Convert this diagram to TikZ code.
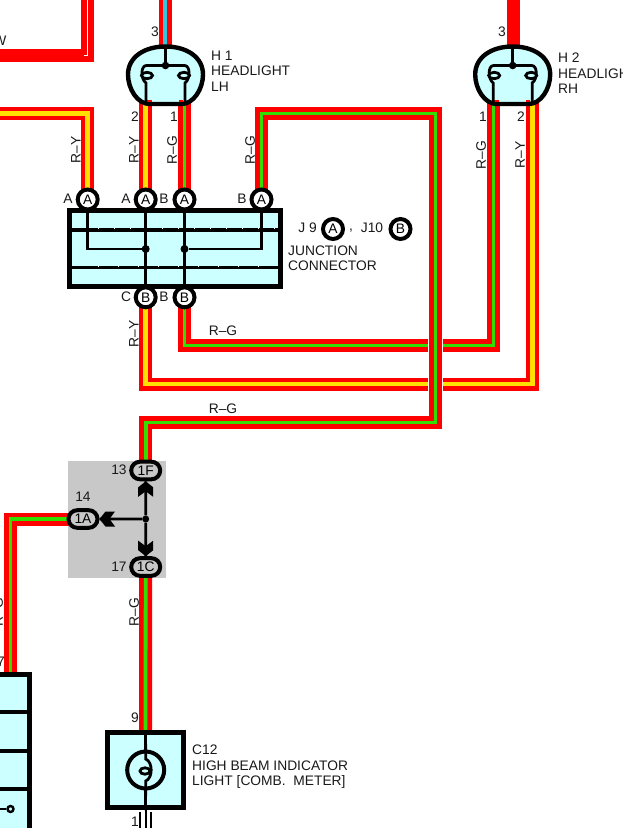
\documentclass[tikz,border=0pt]{standalone}
\usepackage{fontspec}
\setmainfont{Liberation Sans}
\usetikzlibrary{backgrounds, shapes.misc}

\definecolor{wred}{HTML}{FF0000}
\definecolor{wyellow}{HTML}{FFE000}
\definecolor{wgreen}{HTML}{33DD00}
\definecolor{wblue}{HTML}{33C4E0}
\definecolor{body}{HTML}{CCFFFF}
\definecolor{splice}{HTML}{C8C8C8}

\tikzset{
	wire/.style={draw=wred, line width=13pt, miter limit=10},
	wirery/.style={draw=wred, double=wyellow, line width=4.2pt, double distance=4.6pt, miter limit=10},
	wirerg/.style={draw=wred, double=wgreen, line width=4.6pt, double distance=3.8pt, miter limit=10},
	wirerl/.style={draw=wred, double=wblue, line width=4.2pt, double distance=4.6pt, miter limit=10},
	conn/.style={circle, draw, line width=4pt, fill=white, minimum size=20pt, inner sep=0pt},
	pill/.style={rounded rectangle, draw, line width=4pt, fill=splice, minimum width=29pt, minimum height=17.6pt, inner sep=0pt},
	box/.style={draw, line width=5pt, fill=body, inner sep=0pt},
	lbl/.style={inner sep=0pt, text=black!90},
	rot/.style={lbl, rotate=90},
	dotj/.style={circle, fill=black, inner sep=0pt, minimum size=7pt},
	sig/.style={line width=2.8pt},
	chevron/.pic={
		\fill (0,0) -- (7.5,6) -- (7.5,15.5) -- (0,10) -- (-7.5,15.5) -- (-7.5,6) -- cycle;
	},
	bulb/.pic={
		\draw[line width=4.4pt, fill=body] (-37.5,-0.5) .. controls (-37.5,-18) and (-21,-28.5) .. (0,-28.5)
			.. controls (21,-28.5) and (37.5,-18) .. (37.5,-0.5)
			.. controls (37.5,14) and (28,29) .. (16,29) -- (-16,29)
			.. controls (-28,29) and (-37.5,14) .. (-37.5,-0.5) -- cycle;
		\fill[wred] (-18.5,25.2) rectangle (-13.5,26.6);
		\fill[wred] (13,25.2) rectangle (17.5,26.6);
		\draw[sig] (0,-28.5) -- (0,-9.5);
		\fill (0,-9.5) circle (3.8pt);
		\draw[sig] (-19.5,29) -- (-19.5,8) .. controls (-25,4) and (-25,-9.5) .. (-19,-9.5) -- (19,-9.5)
			.. controls (25,-9.5) and (25,4) .. (19.5,8) -- (19.5,29);
		\draw[sig, fill=body] (-18.5,0.5) ellipse (5.5pt and 3.2pt);
		\draw[sig, fill=body] (18.5,0.5) ellipse (5.5pt and 3.2pt);
	}
}

\begin{document}
\begin{tikzpicture}[x=1pt, y=-1pt, every node/.append style={font=\fontsize{13.8}{15.4}\selectfont}]
	\useasboundingbox (0,0) rectangle (623,828);
	% free ends
	\coordinate (topL) at (87.5,-8);
	\coordinate (endL) at (-8,55.5);
	\coordinate (topH1) at (165,-8);
	\coordinate (topH2) at (513,-8);
	\coordinate (endRY) at (-8,113.5);
	\coordinate (h1a) at (145.7,103);
	\coordinate (h1b) at (184.5,103);
	\coordinate (h1c) at (165,46);
	\coordinate (h2a) at (493.5,103);
	\coordinate (h2b) at (532.5,103);
	\coordinate (h2c) at (513,46);
	\coordinate (cr1) at (435.5,334);
	\coordinate (cr2) at (435.5,396);
	\coordinate (meter) at (10.5,674);

	% connectors of J9 and J10
	\node[box, minimum width=210.7pt, minimum height=76pt] (jc) at (175,248.5) {};
	\foreach \nm/\x/\y/\txt in {a1/87.7/199.5/A, a2/145.7/199.5/A, a3/184.5/199.5/A, a4/261.5/199.5/A,
		b1/145.7/297.3/B, b2/184.5/297.3/B, legA/333/229/A, legB/400.5/229/B}
		\node[conn] (\nm) at (\x,\y) {\txt};
	\draw[line width=3.2pt] (jc.west |- 0,230) -- (jc.east |- 0,230);
	\draw[line width=3.2pt] (jc.west |- 0,267.7) -- (jc.east |- 0,267.7);
	\draw[white, line width=0.6pt, dash pattern=on 1pt off 15pt] (98,228.5) -- (278,228.5);
	\draw[white, line width=0.6pt, dash pattern=on 1pt off 19pt] (98,266.2) -- (278,266.2);
	\node[dotj, minimum size=8pt] (s1) at (145.7,249) {};
	\node[dotj, minimum size=8pt] (s2) at (184.5,249) {};
	\draw[sig] (a1) |- (s1);
	\draw[sig] (a4) |- (s2);
	\draw[sig] (a2) -- (b1);
	\draw[sig] (a3) -- (b2);

	% splice 1A 1F 1C
	\node[pill] (p1F) at (145.7,470.5) {1F};
	\node[pill] (p1A) at (83,519) {1A};
	\node[pill] (p1C) at (145.7,567) {1C};
	\node[dotj] (jct) at (145.7,519) {};
	\draw[sig] (jct) -- (p1F);
	\draw[sig] (jct) -- (p1A);
	\draw[sig] (jct) -- (p1C);
	\pic at (p1F.south) {chevron};
	\pic[rotate=90] at (p1A.east) {chevron};
	\pic[rotate=180] at (p1C.north) {chevron};

	% headlights
	\pic at (165.5,75) {bulb};
	\pic at (512.7,75) {bulb};

	% indicator and the meter box
	\node[box, minimum width=76pt, minimum height=75pt] (c12) at (145.5,770) {};
	\node[circle, draw, line width=4pt, minimum size=37pt, inner sep=0pt] (lamp) at (145.7,770) {};
	\draw[sig] (c12.north) -- (145.7,759) .. controls (153,762) and (153,778) .. (145.7,781) -- (c12.south);
	\draw[sig, fill=body] (145,771) ellipse (5pt and 3.2pt);
	\draw[line width=2pt] (c12.south) -- (145.5,835);
	\draw[line width=2pt] (140,812) -- (140,835);
	\draw[line width=2pt] (150.5,812) -- (150.5,835);
	\draw[box] (-10,674.5) rectangle (29.5,845);
	\draw[line width=3.2pt] (-10,712) -- (29.5,712);
	\draw[line width=3.2pt] (-10,751) -- (29.5,751);
	\draw[line width=3.2pt] (-10,789) -- (29.5,789);
	\node[circle, draw, line width=2.4pt, fill=body, minimum size=6pt, inner sep=0pt] (pin) at (10.5,809) {};
	\draw[sig] (-5,809) -- (pin);

	% wires go under all of it
	\begin{scope}[on background layer]
		\node[fill=splice, minimum width=98pt, minimum height=117pt, inner sep=0pt] (grey) at (117,519.5) {};
		\draw[wire] (topL) |- (endL);
		\draw[white, line width=0.9pt] (87,-8) -- (87,55) -- (84,55);
		\draw[wirerl] (topH1) -- (h1c);
		\draw[wire] (topH2) -- (h2c);
		\draw[wirery] (a1.center) |- (endRY);
		\draw[wirery] (a2.center) -- (h1a);
		\draw[wirerg] (a3.center) -- (h1b);
		\draw[wirerg] (b2.center) |- (345.5,345.5) -| (h2a);
		\draw[wirery] (b1.center) |- (384,384) -| (h2b);
		\draw[white, line width=15.4pt] (cr1) -- (cr2);
		\draw[wirerg] (a4.center) |- (435.5,113.5) |- (145.7,422.5) -- (p1F.center);
		\draw[wirerg] (p1A.center) -| (meter);
		\draw[wirerg] (p1C.center) -- (c12.north);
	\end{scope}

	% wire colours
	\node[rot] (w1) at (76,150) {R–Y};
	\node[rot] (w2) at (134,150) {R–Y};
	\node[rot] (w3) at (172,150) {R–G};
	\node[rot] (w4) at (250,150) {R–G};
	\node[rot] (w5) at (481,155) {R–G};
	\node[rot] (w6) at (520,155) {R–Y};
	\node[rot] (w7) at (134,334) {R–Y};
	\node[rot] (w8) at (134,612) {R–G};
	\node[rot] (w9) at (-2,612) {R–G};
	\node[lbl] (w10) at (223,331) {R–G};
	\node[lbl] (w11) at (223,409) {R–G};
	\node[lbl] (w12) at (0,41) {W};

	% pin numbers and connector letters
	\foreach \nm/\x/\y/\txt in {n1/155/32/3, n2/135/117/2, n3/174/117/1, n4/502/32/3, n5/483/117/1, n6/521/117/2,
		n7/135/718/9, n8/135/822/1, n9/119/470/13, n10/83/497/14, n11/119/567/17, n12/1/662/7,
		l1/68/199/A, l2/126/199/A, l3/164/199/B, l4/242/199/B, l5/126/297/C, l6/164/297/B,
		j1/307.5/228/J 9, j2/351/231/{,}, j3/372/228/J10}
		\node[lbl] (\nm) at (\x,\y) {\txt};

	% names of the parts
	\node[lbl, anchor=west, align=left] (t1) at (211,71) {H 1\\[0.4pt]HEADLIGHT\\LH};
	\node[lbl, anchor=west, align=left] (t2) at (558,73) {H 2\\[0.4pt]HEADLIGHT\\RH};
	\node[lbl, anchor=west, align=left] (t3) at (288,258.5) {JUNCTION\\CONNECTOR};
	\node[lbl, anchor=west, align=left] (t4) at (192,767) {C12\\HIGH BEAM INDICATOR\\LIGHT [COMB.\ \ METER]};
\end{tikzpicture}
\end{document}
